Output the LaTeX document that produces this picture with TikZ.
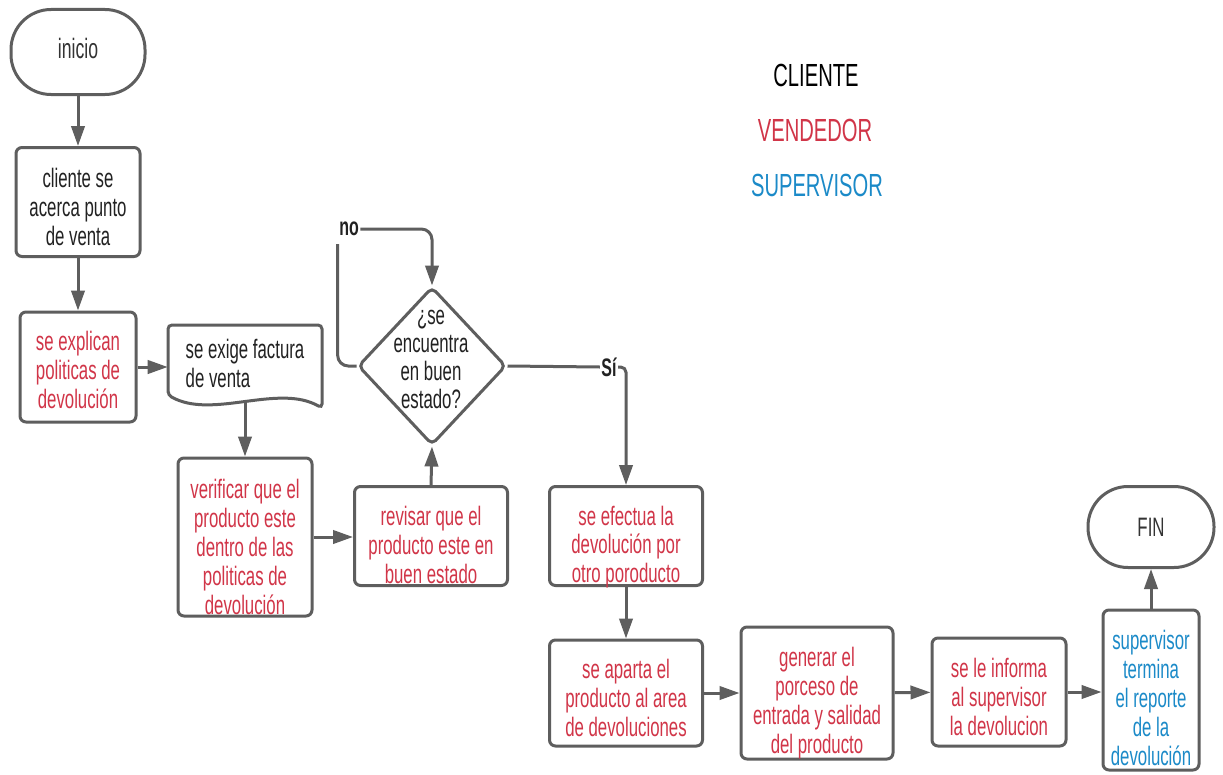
\documentclass[tikz,border=0pt]{standalone}
\usepackage{fontspec}
\setmainfont{Liberation Sans}[FakeStretch=0.63]
\usetikzlibrary{arrows.meta,shapes.geometric}
\definecolor{ln}{HTML}{5E5E5E}
\definecolor{vred}{HTML}{D13548}
\definecolor{sblue}{HTML}{1B8AC8}
\definecolor{dk}{HTML}{222222}
\tikzset{
  box/.style={draw=ln, line width=2.25pt, rounded corners=4.5pt, inner sep=0pt},
  term/.style={box, rounded corners=30pt},
  tx/.style={align=center, inner sep=0pt, font=\fontsize{20}{21.6}\selectfont, text=dk},
  conn/.style={draw=ln, line width=2.25pt},
  arr/.style={conn, -{Triangle[length=15pt,width=10pt]}},
  lbl/.style={font=\bfseries\fontsize{19}{21.75}\selectfont, text=dk, inner xsep=1pt, inner ysep=6pt},
  legend/.style={font=\fontsize{24}{26}\selectfont},
}
\begin{document}
\begin{tikzpicture}[x=0.75pt,y=-0.75pt]
\fill[white] (0,0) rectangle (1223,774);
\useasboundingbox (0,0) rectangle (1223,774);

% terminals
\node[term, minimum width=100.5pt, minimum height=63.75pt,
  label={[tx, text=black!80, font=\fontsize{21}{22}\selectfont, yshift=3pt]center:inicio}] (inicio) at (78,52) {};
\node[term, minimum width=94.5pt, minimum height=60.75pt,
  label={[tx, text=black!80]center:FIN}] (fin) at (1151,527) {};

% process boxes
\node[box, minimum width=93pt, minimum height=81.75pt,
  label={[tx, yshift=-3.75pt]center:{cliente se\\acerca punto\\de venta}}] (cliente) at (78,202) {};
\node[box, minimum width=87pt, minimum height=82.5pt,
  label={[tx, text=vred, yshift=-2.25pt]center:{se explican\\politicas de\\devolución}}] (explican) at (78,367) {};
\node[tx, align=left, minimum width=115.5pt, minimum height=58.5pt] (docu) at (245,363.5) {se exige factura\\de venta};
\draw[conn, rounded corners=3pt] (168,395) -- (168,325) -- (322,325) -- (322,408)
   .. controls (278,383) and (212,420) .. (168,395) -- cycle;
\node[box, minimum width=100.5pt, minimum height=118.5pt,
  label={[tx, text=vred, yshift=-7.5pt]center:{verificar que el\\producto este\\dentro de las\\politicas de\\devolución}}] (verif) at (245,537) {};
\node[box, minimum width=114.75pt, minimum height=74.25pt,
  label={[tx, text=vred, yshift=-6.75pt]center:{revisar que el\\producto este en\\buen estado}}] (revisar) at (431,536) {};
\node[box, minimum width=114.75pt, minimum height=74.25pt,
  label={[tx, text=vred, yshift=-8.25pt]center:{se efectua la\\devolución por\\otro poroducto}}] (efectua) at (626,536) {};
\node[box, minimum width=114.75pt, minimum height=79.5pt,
  label={[tx, text=vred, yshift=-3.75pt]center:{se aparta el\\producto al area\\de devoluciones}}] (aparta) at (626,693) {};
\node[box, minimum width=114pt, minimum height=99pt,
  label={[tx, text=vred, yshift=-7.5pt]center:{generar el\\porceso de\\entrada y salidad\\del producto}}] (generar) at (817,693) {};
\node[box, minimum width=100.5pt, minimum height=81pt,
  label={[tx, text=vred, yshift=-3.75pt]center:{se le informa\\al supervisor\\la devolucion}}] (informa) at (999,692) {};
\node[box, minimum width=72pt, minimum height=120pt,
  label={[tx, text=sblue, yshift=-6pt]center:{supervisor\\termina\\el reporte\\de la\\devolución}}] (superv) at (1151,690) {};

% decision
\node[diamond, draw=ln, line width=2.25pt, rounded corners=4pt, inner sep=0pt,
      minimum width=111pt, minimum height=118.5pt] (dia) at (432,366) {};
\node[tx, font=\fontsize{20}{21}\selectfont] (dq) at (431,359) {¿se\\encuentra\\en buen\\estado?};

% labels
\node[lbl] (nolbl) at (349,229) {no};
\node[lbl] (silbl) at (609,367) {Sí};

% legend
\node[legend, text=black] (lcli) at (816,75) {CLIENTE};
\node[legend, text=vred] (lven) at (815,130) {VENDEDOR};
\node[legend, text=sblue] (lsup) at (817,185) {SUPERVISOR};

% connectors
\draw[arr] (inicio) -- (cliente);
\draw[arr] (cliente) -- (explican);
\draw[arr] (explican.east) -- (explican.east -| docu.west);
\draw[arr] (docu.south) -- (verif.north);
\draw[arr] (verif.east) -- (verif.east -| revisar.west);
\draw[arr] (revisar.north) -- (dia.south);
\draw[conn, rounded corners=8pt] (dia.west) -| (nolbl.south west);
\draw[arr, rounded corners=8pt] (nolbl.east) -| (dia.north);
\draw[conn] (dia.east) -- (silbl.west);
\draw[arr, rounded corners=4pt] (silbl.east) -| (efectua.north);
\draw[arr] (efectua) -- (aparta);
\draw[arr] (aparta) -- (generar);
\draw[arr] (generar) -- (informa);
\draw[arr] (informa.east) -- (informa.east -| superv.west);
\draw[arr] (superv) -- (fin);
\end{tikzpicture}
\end{document}
